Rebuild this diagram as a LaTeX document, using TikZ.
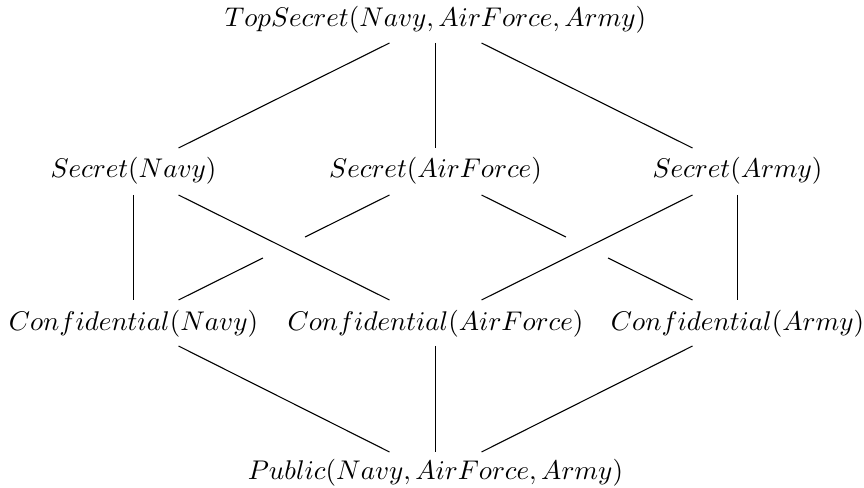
\documentclass[tikz,border=0pt]{standalone}
\usetikzlibrary{calc}
\begin{document}
\begin{tikzpicture}[x=0.37pt, y=-0.37pt,
  lbl/.style={anchor=base, inner sep=0pt, outer sep=0pt},
  link/.style={draw=black, line width=0.4pt}]
  \useasboundingbox (0,0) rectangle (864,488);

  % levels of the lattice
  \node[lbl] (top) at (435.5,27)  {$TopSecret(Navy, AirForce, Army)$};
  \node[lbl] (sn)  at (133.5,178) {$Secret(Navy)$};
  \node[lbl] (saf) at (435.5,178) {$Secret(AirForce)$};
  \node[lbl] (sar) at (737.5,178) {$Secret(Army)$};
  \node[lbl] (cn)  at (133.5,331) {$Confidential(Navy)$};
  \node[lbl] (caf) at (435.5,331) {$Confidential(AirForce)$};
  \node[lbl] (car) at (737.5,331) {$Confidential(Army)$};
  \node[lbl] (pub) at (435.5,480) {$Public(Navy, AirForce, Army)$};

  % top -> secret
  \draw[link] ([shift={(-46,16)}]top.base) -- ([shift={(45,-30)}]sn.base);
  \draw[link] ([shift={(0,16)}]top.base)   -- ([shift={(0,-30)}]saf.base);
  \draw[link] ([shift={(46,16)}]top.base)  -- ([shift={(-45,-30)}]sar.base);

  % secret -> confidential
  \draw[link] ([shift={(0,17)}]sn.base)  -- ([shift={(0,-31)}]cn.base);
  \draw[link] ([shift={(45,17)}]sn.base) -- ([shift={(-46,-31)}]caf.base);
  \draw[link] ([shift={(-45,17)}]sar.base) -- ([shift={(46,-31)}]caf.base);
  \draw[link] ([shift={(0,17)}]sar.base) -- ([shift={(0,-31)}]car.base);

  % crossing links, broken where they pass the others
  \coordinate (safl) at ([shift={(-46,17)}]saf.base);
  \coordinate (cnr)  at ([shift={(45,-31)}]cn.base);
  \coordinate (safr) at ([shift={(46,17)}]saf.base);
  \coordinate (carl) at ([shift={(-45,-31)}]car.base);
  \draw[link] (safl) -- ($(safl)!0.4!(cnr)$);
  \draw[link] ($(safl)!0.6!(cnr)$) -- (cnr);
  \draw[link] (safr) -- ($(safr)!0.4!(carl)$);
  \draw[link] ($(safr)!0.6!(carl)$) -- (carl);

  % confidential -> public
  \draw[link] ([shift={(45,15)}]cn.base)  -- ([shift={(-46,-28)}]pub.base);
  \draw[link] ([shift={(0,15)}]caf.base)  -- ([shift={(0,-28)}]pub.base);
  \draw[link] ([shift={(-45,15)}]car.base) -- ([shift={(46,-28)}]pub.base);
\end{tikzpicture}
\end{document}
